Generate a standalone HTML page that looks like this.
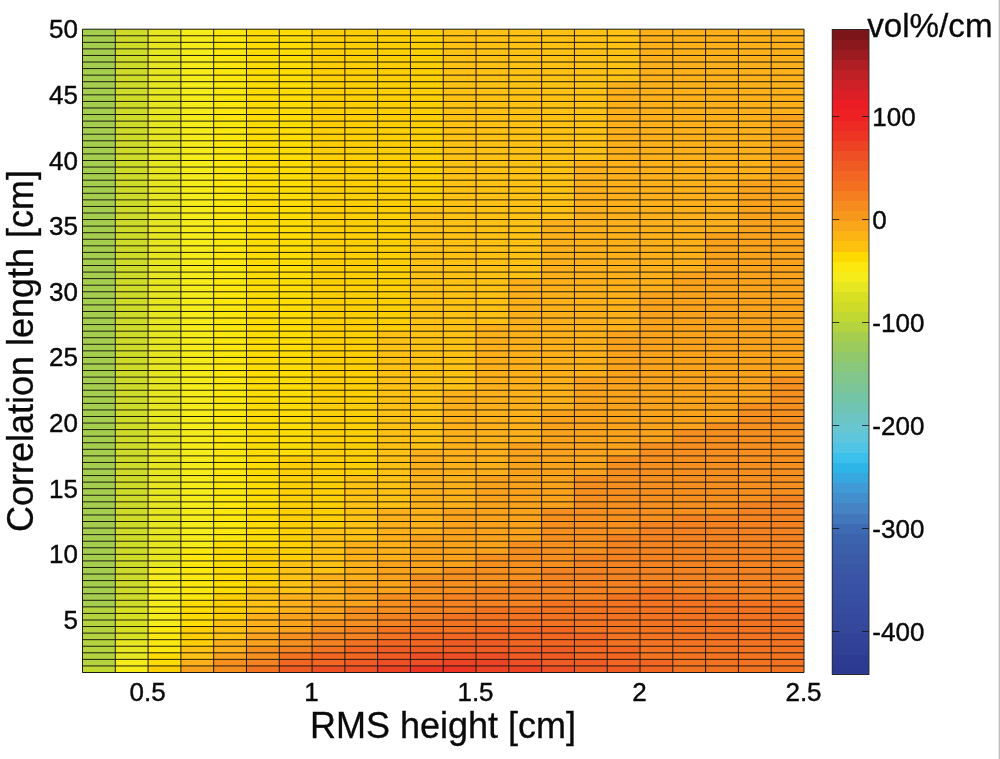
<!DOCTYPE html>
<html><head><meta charset="utf-8"><title>Sensitivity plot</title>
<style>
html,body{margin:0;padding:0;background:#fff;}
body{width:1000px;height:759px;overflow:hidden;}
svg{display:block;}
svg text{font-family:"Liberation Sans",sans-serif;fill:#0a0a0a;}
svg text.t{stroke:#0a0a0a;stroke-width:0.4px;}
svg text.b{stroke:#0a0a0a;stroke-width:0.3px;}
</style></head><body>
<svg width="1000" height="759" viewBox="0 0 1000 759">
<rect width="1000" height="759" fill="#fff"/>
<rect x="998.7" y="0" width="1.3" height="759" fill="#bcbcbc"/>
<g shape-rendering="crispEdges">
<rect x="82.20" y="665.64" width="33.40" height="7.16" fill="#c2d832"/>
<rect x="82.20" y="606.56" width="33.40" height="59.68" fill="#b4d33e"/>
<rect x="82.20" y="28.90" width="33.40" height="578.26" fill="#a6ce4e"/>
<rect x="115.00" y="659.07" width="33.40" height="13.73" fill="#f5ec1a"/>
<rect x="115.00" y="639.38" width="33.40" height="20.29" fill="#e6e621"/>
<rect x="115.00" y="606.56" width="33.40" height="33.42" fill="#d8e023"/>
<rect x="115.00" y="28.90" width="33.40" height="578.26" fill="#cedc29"/>
<rect x="147.79" y="665.64" width="33.40" height="7.16" fill="#ffcf06"/>
<rect x="147.79" y="652.51" width="33.40" height="13.73" fill="#ffdc04"/>
<rect x="147.79" y="626.25" width="33.40" height="26.86" fill="#fce80f"/>
<rect x="147.79" y="567.17" width="33.40" height="59.68" fill="#f5ec1a"/>
<rect x="147.79" y="28.90" width="33.40" height="538.87" fill="#e6e621"/>
<rect x="180.59" y="665.64" width="33.40" height="7.16" fill="#faa21b"/>
<rect x="180.59" y="659.07" width="33.40" height="7.16" fill="#fdb01a"/>
<rect x="180.59" y="645.94" width="33.40" height="13.73" fill="#ffc113"/>
<rect x="180.59" y="626.25" width="33.40" height="20.29" fill="#ffcf06"/>
<rect x="180.59" y="599.99" width="33.40" height="26.86" fill="#ffdc04"/>
<rect x="180.59" y="547.48" width="33.40" height="53.11" fill="#fce80f"/>
<rect x="180.59" y="28.90" width="33.40" height="519.18" fill="#f5ec1a"/>
<rect x="213.38" y="659.07" width="33.40" height="13.73" fill="#f78f1f"/>
<rect x="213.38" y="652.51" width="33.40" height="7.16" fill="#faa21b"/>
<rect x="213.38" y="639.38" width="33.40" height="13.73" fill="#fdb01a"/>
<rect x="213.38" y="619.69" width="33.40" height="20.29" fill="#ffc113"/>
<rect x="213.38" y="593.43" width="33.40" height="26.86" fill="#ffcf06"/>
<rect x="213.38" y="540.91" width="33.40" height="53.11" fill="#ffdc04"/>
<rect x="213.38" y="28.90" width="33.40" height="512.61" fill="#fce80f"/>
<rect x="246.18" y="665.64" width="33.40" height="7.16" fill="#f47321"/>
<rect x="246.18" y="659.07" width="33.40" height="7.16" fill="#f58220"/>
<rect x="246.18" y="645.94" width="33.40" height="13.73" fill="#f78f1f"/>
<rect x="246.18" y="632.81" width="33.40" height="13.73" fill="#faa21b"/>
<rect x="246.18" y="613.12" width="33.40" height="20.29" fill="#fdb01a"/>
<rect x="246.18" y="586.86" width="33.40" height="26.86" fill="#ffc113"/>
<rect x="246.18" y="547.48" width="33.40" height="39.99" fill="#ffcf06"/>
<rect x="246.18" y="28.90" width="33.40" height="519.18" fill="#ffdc04"/>
<rect x="278.97" y="665.64" width="33.40" height="7.16" fill="#f05b23"/>
<rect x="278.97" y="659.07" width="33.40" height="7.16" fill="#f26622"/>
<rect x="278.97" y="652.51" width="33.40" height="7.16" fill="#f47321"/>
<rect x="278.97" y="645.94" width="33.40" height="7.16" fill="#f58220"/>
<rect x="278.97" y="632.81" width="33.40" height="13.73" fill="#f78f1f"/>
<rect x="278.97" y="613.12" width="33.40" height="20.29" fill="#faa21b"/>
<rect x="278.97" y="593.43" width="33.40" height="20.29" fill="#fdb01a"/>
<rect x="278.97" y="560.61" width="33.40" height="33.42" fill="#ffc113"/>
<rect x="278.97" y="455.58" width="33.40" height="105.63" fill="#ffcf06"/>
<rect x="278.97" y="28.90" width="33.40" height="427.28" fill="#ffdc04"/>
<rect x="311.77" y="665.64" width="33.40" height="7.16" fill="#ef4f24"/>
<rect x="311.77" y="652.51" width="33.40" height="13.73" fill="#f26622"/>
<rect x="311.77" y="645.94" width="33.40" height="7.16" fill="#f47321"/>
<rect x="311.77" y="632.81" width="33.40" height="13.73" fill="#f58220"/>
<rect x="311.77" y="619.69" width="33.40" height="13.73" fill="#f78f1f"/>
<rect x="311.77" y="599.99" width="33.40" height="20.29" fill="#faa21b"/>
<rect x="311.77" y="573.74" width="33.40" height="26.86" fill="#fdb01a"/>
<rect x="311.77" y="527.79" width="33.40" height="46.55" fill="#ffc113"/>
<rect x="311.77" y="28.90" width="33.40" height="499.49" fill="#ffcf06"/>
<rect x="344.56" y="665.64" width="33.40" height="7.16" fill="#ef4f24"/>
<rect x="344.56" y="659.07" width="33.40" height="7.16" fill="#f05b23"/>
<rect x="344.56" y="645.94" width="33.40" height="13.73" fill="#f26622"/>
<rect x="344.56" y="639.38" width="33.40" height="7.16" fill="#f47321"/>
<rect x="344.56" y="626.25" width="33.40" height="13.73" fill="#f58220"/>
<rect x="344.56" y="606.56" width="33.40" height="20.29" fill="#f78f1f"/>
<rect x="344.56" y="580.30" width="33.40" height="26.86" fill="#faa21b"/>
<rect x="344.56" y="540.91" width="33.40" height="39.99" fill="#fdb01a"/>
<rect x="344.56" y="475.27" width="33.40" height="66.24" fill="#ffc113"/>
<rect x="344.56" y="28.90" width="33.40" height="446.97" fill="#ffcf06"/>
<rect x="377.36" y="665.64" width="33.40" height="7.16" fill="#ee4224"/>
<rect x="377.36" y="659.07" width="33.40" height="7.16" fill="#ef4f24"/>
<rect x="377.36" y="645.94" width="33.40" height="13.73" fill="#f05b23"/>
<rect x="377.36" y="639.38" width="33.40" height="7.16" fill="#f26622"/>
<rect x="377.36" y="626.25" width="33.40" height="13.73" fill="#f47321"/>
<rect x="377.36" y="613.12" width="33.40" height="13.73" fill="#f58220"/>
<rect x="377.36" y="593.43" width="33.40" height="20.29" fill="#f78f1f"/>
<rect x="377.36" y="560.61" width="33.40" height="33.42" fill="#faa21b"/>
<rect x="377.36" y="508.09" width="33.40" height="53.11" fill="#fdb01a"/>
<rect x="377.36" y="330.86" width="33.40" height="177.84" fill="#ffc113"/>
<rect x="377.36" y="28.90" width="33.40" height="302.56" fill="#ffcf06"/>
<rect x="410.15" y="665.64" width="33.40" height="7.16" fill="#ee3524"/>
<rect x="410.15" y="652.51" width="33.40" height="13.73" fill="#ef4f24"/>
<rect x="410.15" y="645.94" width="33.40" height="7.16" fill="#f05b23"/>
<rect x="410.15" y="632.81" width="33.40" height="13.73" fill="#f26622"/>
<rect x="410.15" y="619.69" width="33.40" height="13.73" fill="#f47321"/>
<rect x="410.15" y="599.99" width="33.40" height="20.29" fill="#f58220"/>
<rect x="410.15" y="573.74" width="33.40" height="26.86" fill="#f78f1f"/>
<rect x="410.15" y="534.35" width="33.40" height="39.99" fill="#faa21b"/>
<rect x="410.15" y="449.01" width="33.40" height="85.94" fill="#fdb01a"/>
<rect x="410.15" y="206.14" width="33.40" height="243.48" fill="#ffc113"/>
<rect x="410.15" y="28.90" width="33.40" height="177.84" fill="#ffcf06"/>
<rect x="442.95" y="665.64" width="33.40" height="7.16" fill="#ee3524"/>
<rect x="442.95" y="659.07" width="33.40" height="7.16" fill="#ee4224"/>
<rect x="442.95" y="652.51" width="33.40" height="7.16" fill="#ef4f24"/>
<rect x="442.95" y="639.38" width="33.40" height="13.73" fill="#f05b23"/>
<rect x="442.95" y="632.81" width="33.40" height="7.16" fill="#f26622"/>
<rect x="442.95" y="613.12" width="33.40" height="20.29" fill="#f47321"/>
<rect x="442.95" y="593.43" width="33.40" height="20.29" fill="#f58220"/>
<rect x="442.95" y="567.17" width="33.40" height="26.86" fill="#f78f1f"/>
<rect x="442.95" y="508.09" width="33.40" height="59.68" fill="#faa21b"/>
<rect x="442.95" y="389.94" width="33.40" height="118.76" fill="#fdb01a"/>
<rect x="442.95" y="28.90" width="33.40" height="361.64" fill="#ffc113"/>
<rect x="475.75" y="659.07" width="33.40" height="13.73" fill="#ee4224"/>
<rect x="475.75" y="652.51" width="33.40" height="7.16" fill="#ef4f24"/>
<rect x="475.75" y="639.38" width="33.40" height="13.73" fill="#f05b23"/>
<rect x="475.75" y="626.25" width="33.40" height="13.73" fill="#f26622"/>
<rect x="475.75" y="606.56" width="33.40" height="20.29" fill="#f47321"/>
<rect x="475.75" y="586.86" width="33.40" height="20.29" fill="#f58220"/>
<rect x="475.75" y="554.04" width="33.40" height="33.42" fill="#f78f1f"/>
<rect x="475.75" y="475.27" width="33.40" height="79.37" fill="#faa21b"/>
<rect x="475.75" y="324.29" width="33.40" height="151.58" fill="#fdb01a"/>
<rect x="475.75" y="28.90" width="33.40" height="295.99" fill="#ffc113"/>
<rect x="508.54" y="665.64" width="33.40" height="7.16" fill="#ee4224"/>
<rect x="508.54" y="659.07" width="33.40" height="7.16" fill="#ef4f24"/>
<rect x="508.54" y="645.94" width="33.40" height="13.73" fill="#f05b23"/>
<rect x="508.54" y="626.25" width="33.40" height="20.29" fill="#f26622"/>
<rect x="508.54" y="606.56" width="33.40" height="20.29" fill="#f47321"/>
<rect x="508.54" y="580.30" width="33.40" height="26.86" fill="#f58220"/>
<rect x="508.54" y="540.91" width="33.40" height="39.99" fill="#f78f1f"/>
<rect x="508.54" y="442.45" width="33.40" height="99.06" fill="#faa21b"/>
<rect x="508.54" y="278.34" width="33.40" height="164.71" fill="#fdb01a"/>
<rect x="508.54" y="28.90" width="33.40" height="250.04" fill="#ffc113"/>
<rect x="541.34" y="665.64" width="33.40" height="7.16" fill="#ef4f24"/>
<rect x="541.34" y="645.94" width="33.40" height="20.29" fill="#f05b23"/>
<rect x="541.34" y="626.25" width="33.40" height="20.29" fill="#f26622"/>
<rect x="541.34" y="599.99" width="33.40" height="26.86" fill="#f47321"/>
<rect x="541.34" y="567.17" width="33.40" height="33.42" fill="#f58220"/>
<rect x="541.34" y="508.09" width="33.40" height="59.68" fill="#f78f1f"/>
<rect x="541.34" y="409.63" width="33.40" height="99.06" fill="#faa21b"/>
<rect x="541.34" y="219.26" width="33.40" height="190.96" fill="#fdb01a"/>
<rect x="541.34" y="28.90" width="33.40" height="190.96" fill="#ffc113"/>
<rect x="574.13" y="659.07" width="33.40" height="13.73" fill="#f05b23"/>
<rect x="574.13" y="632.81" width="33.40" height="26.86" fill="#f26622"/>
<rect x="574.13" y="599.99" width="33.40" height="33.42" fill="#f47321"/>
<rect x="574.13" y="554.04" width="33.40" height="46.55" fill="#f58220"/>
<rect x="574.13" y="475.27" width="33.40" height="79.37" fill="#f78f1f"/>
<rect x="574.13" y="376.81" width="33.40" height="99.06" fill="#faa21b"/>
<rect x="574.13" y="160.19" width="33.40" height="217.22" fill="#fdb01a"/>
<rect x="574.13" y="28.90" width="33.40" height="131.89" fill="#ffc113"/>
<rect x="606.93" y="665.64" width="33.40" height="7.16" fill="#f05b23"/>
<rect x="606.93" y="645.94" width="33.40" height="20.29" fill="#f26622"/>
<rect x="606.93" y="593.43" width="33.40" height="53.11" fill="#f47321"/>
<rect x="606.93" y="534.35" width="33.40" height="59.68" fill="#f58220"/>
<rect x="606.93" y="455.58" width="33.40" height="79.37" fill="#f78f1f"/>
<rect x="606.93" y="330.86" width="33.40" height="125.32" fill="#faa21b"/>
<rect x="606.93" y="81.41" width="33.40" height="250.04" fill="#fdb01a"/>
<rect x="606.93" y="28.90" width="33.40" height="53.11" fill="#ffc113"/>
<rect x="639.72" y="659.07" width="33.40" height="13.73" fill="#f26622"/>
<rect x="639.72" y="586.86" width="33.40" height="72.81" fill="#f47321"/>
<rect x="639.72" y="521.22" width="33.40" height="66.24" fill="#f58220"/>
<rect x="639.72" y="442.45" width="33.40" height="79.37" fill="#f78f1f"/>
<rect x="639.72" y="291.47" width="33.40" height="151.58" fill="#faa21b"/>
<rect x="639.72" y="28.90" width="33.40" height="263.17" fill="#fdb01a"/>
<rect x="672.52" y="593.43" width="33.40" height="79.37" fill="#f47321"/>
<rect x="672.52" y="514.66" width="33.40" height="79.37" fill="#f58220"/>
<rect x="672.52" y="429.32" width="33.40" height="85.94" fill="#f78f1f"/>
<rect x="672.52" y="271.78" width="33.40" height="158.14" fill="#faa21b"/>
<rect x="672.52" y="28.90" width="33.40" height="243.48" fill="#fdb01a"/>
<rect x="705.31" y="593.43" width="33.40" height="79.37" fill="#f47321"/>
<rect x="705.31" y="514.66" width="33.40" height="79.37" fill="#f58220"/>
<rect x="705.31" y="422.76" width="33.40" height="92.50" fill="#f78f1f"/>
<rect x="705.31" y="232.39" width="33.40" height="190.96" fill="#faa21b"/>
<rect x="705.31" y="28.90" width="33.40" height="204.09" fill="#fdb01a"/>
<rect x="738.11" y="599.99" width="33.40" height="72.81" fill="#f47321"/>
<rect x="738.11" y="501.53" width="33.40" height="99.06" fill="#f58220"/>
<rect x="738.11" y="403.06" width="33.40" height="99.06" fill="#f78f1f"/>
<rect x="738.11" y="179.88" width="33.40" height="223.79" fill="#faa21b"/>
<rect x="738.11" y="28.90" width="33.40" height="151.58" fill="#fdb01a"/>
<rect x="770.90" y="599.99" width="33.40" height="72.81" fill="#f47321"/>
<rect x="770.90" y="494.96" width="33.40" height="105.63" fill="#f58220"/>
<rect x="770.90" y="376.81" width="33.40" height="118.76" fill="#f78f1f"/>
<rect x="770.90" y="114.24" width="33.40" height="263.17" fill="#faa21b"/>
<rect x="770.90" y="28.90" width="33.40" height="85.94" fill="#fdb01a"/>
</g>
<path d="M82.50 672.50H804.00M82.50 665.94H804.00M82.50 659.37H804.00M82.50 652.81H804.00M82.50 646.24H804.00M82.50 639.68H804.00M82.50 633.11H804.00M82.50 626.55H804.00M82.50 619.99H804.00M82.50 613.42H804.00M82.50 606.86H804.00M82.50 600.29H804.00M82.50 593.73H804.00M82.50 587.16H804.00M82.50 580.60H804.00M82.50 574.04H804.00M82.50 567.47H804.00M82.50 560.91H804.00M82.50 554.34H804.00M82.50 547.78H804.00M82.50 541.21H804.00M82.50 534.65H804.00M82.50 528.09H804.00M82.50 521.52H804.00M82.50 514.96H804.00M82.50 508.39H804.00M82.50 501.83H804.00M82.50 495.26H804.00M82.50 488.70H804.00M82.50 482.14H804.00M82.50 475.57H804.00M82.50 469.01H804.00M82.50 462.44H804.00M82.50 455.88H804.00M82.50 449.31H804.00M82.50 442.75H804.00M82.50 436.19H804.00M82.50 429.62H804.00M82.50 423.06H804.00M82.50 416.49H804.00M82.50 409.93H804.00M82.50 403.36H804.00M82.50 396.80H804.00M82.50 390.24H804.00M82.50 383.67H804.00M82.50 377.11H804.00M82.50 370.54H804.00M82.50 363.98H804.00M82.50 357.41H804.00M82.50 350.85H804.00M82.50 344.29H804.00M82.50 337.72H804.00M82.50 331.16H804.00M82.50 324.59H804.00M82.50 318.03H804.00M82.50 311.46H804.00M82.50 304.90H804.00M82.50 298.34H804.00M82.50 291.77H804.00M82.50 285.21H804.00M82.50 278.64H804.00M82.50 272.08H804.00M82.50 265.51H804.00M82.50 258.95H804.00M82.50 252.39H804.00M82.50 245.82H804.00M82.50 239.26H804.00M82.50 232.69H804.00M82.50 226.13H804.00M82.50 219.56H804.00M82.50 213.00H804.00M82.50 206.44H804.00M82.50 199.87H804.00M82.50 193.31H804.00M82.50 186.74H804.00M82.50 180.18H804.00M82.50 173.61H804.00M82.50 167.05H804.00M82.50 160.49H804.00M82.50 153.92H804.00M82.50 147.36H804.00M82.50 140.79H804.00M82.50 134.23H804.00M82.50 127.66H804.00M82.50 121.10H804.00M82.50 114.54H804.00M82.50 107.97H804.00M82.50 101.41H804.00M82.50 94.84H804.00M82.50 88.28H804.00M82.50 81.71H804.00M82.50 75.15H804.00M82.50 68.59H804.00M82.50 62.02H804.00M82.50 55.46H804.00M82.50 48.89H804.00M82.50 42.33H804.00M82.50 35.76H804.00M82.50 29.20H804.00M82.50 29.20V672.50M115.30 29.20V672.50M148.09 29.20V672.50M180.89 29.20V672.50M213.68 29.20V672.50M246.48 29.20V672.50M279.27 29.20V672.50M312.07 29.20V672.50M344.86 29.20V672.50M377.66 29.20V672.50M410.45 29.20V672.50M443.25 29.20V672.50M476.05 29.20V672.50M508.84 29.20V672.50M541.64 29.20V672.50M574.43 29.20V672.50M607.23 29.20V672.50M640.02 29.20V672.50M672.82 29.20V672.50M705.61 29.20V672.50M738.41 29.20V672.50M771.20 29.20V672.50M804.00 29.20V672.50" stroke="#1c1a14" stroke-width="1" fill="none"/>
<g shape-rendering="crispEdges">
<rect x="832.20" y="664.12" width="36.80" height="10.68" fill="#2b3990"/>
<rect x="832.20" y="654.04" width="36.80" height="10.68" fill="#2d3c92"/>
<rect x="832.20" y="643.97" width="36.80" height="10.68" fill="#2f4095"/>
<rect x="832.20" y="633.89" width="36.80" height="10.68" fill="#324397"/>
<rect x="832.20" y="623.81" width="36.80" height="10.68" fill="#34479a"/>
<rect x="832.20" y="613.73" width="36.80" height="10.68" fill="#354a9c"/>
<rect x="832.20" y="603.65" width="36.80" height="10.68" fill="#364c9e"/>
<rect x="832.20" y="593.58" width="36.80" height="10.68" fill="#374fa0"/>
<rect x="832.20" y="583.50" width="36.80" height="10.68" fill="#3951a2"/>
<rect x="832.20" y="573.42" width="36.80" height="10.68" fill="#3a53a4"/>
<rect x="832.20" y="563.34" width="36.80" height="10.68" fill="#3a57a6"/>
<rect x="832.20" y="553.26" width="36.80" height="10.68" fill="#3b5ba9"/>
<rect x="832.20" y="543.18" width="36.80" height="10.68" fill="#3b5fab"/>
<rect x="832.20" y="533.11" width="36.80" height="10.68" fill="#3c63ae"/>
<rect x="832.20" y="523.03" width="36.80" height="10.68" fill="#3e6ab3"/>
<rect x="832.20" y="512.95" width="36.80" height="10.68" fill="#4277bc"/>
<rect x="832.20" y="502.87" width="36.80" height="10.68" fill="#4583c4"/>
<rect x="832.20" y="492.79" width="36.80" height="10.68" fill="#428fcd"/>
<rect x="832.20" y="482.72" width="36.80" height="10.68" fill="#3f9ad6"/>
<rect x="832.20" y="472.64" width="36.80" height="10.68" fill="#36a8df"/>
<rect x="832.20" y="462.56" width="36.80" height="10.68" fill="#2eb5e8"/>
<rect x="832.20" y="452.48" width="36.80" height="10.68" fill="#3bbfeb"/>
<rect x="832.20" y="442.40" width="36.80" height="10.68" fill="#4fc4e4"/>
<rect x="832.20" y="432.32" width="36.80" height="10.68" fill="#5dc6dc"/>
<rect x="832.20" y="422.25" width="36.80" height="10.68" fill="#67c6d0"/>
<rect x="832.20" y="412.17" width="36.80" height="10.68" fill="#6dc5c3"/>
<rect x="832.20" y="402.09" width="36.80" height="10.68" fill="#70c4b4"/>
<rect x="832.20" y="392.01" width="36.80" height="10.68" fill="#74c4a6"/>
<rect x="832.20" y="381.93" width="36.80" height="10.68" fill="#7bc599"/>
<rect x="832.20" y="371.86" width="36.80" height="10.68" fill="#82c68b"/>
<rect x="832.20" y="361.78" width="36.80" height="10.68" fill="#89c77c"/>
<rect x="832.20" y="351.70" width="36.80" height="10.68" fill="#91c86b"/>
<rect x="832.20" y="341.62" width="36.80" height="10.68" fill="#9bcb5c"/>
<rect x="832.20" y="331.54" width="36.80" height="10.68" fill="#a6ce4e"/>
<rect x="832.20" y="321.47" width="36.80" height="10.68" fill="#b4d33e"/>
<rect x="832.20" y="311.39" width="36.80" height="10.68" fill="#c2d832"/>
<rect x="832.20" y="301.31" width="36.80" height="10.68" fill="#cedc29"/>
<rect x="832.20" y="291.23" width="36.80" height="10.68" fill="#d8e023"/>
<rect x="832.20" y="281.15" width="36.80" height="10.68" fill="#e6e621"/>
<rect x="832.20" y="271.07" width="36.80" height="10.68" fill="#f5ec1a"/>
<rect x="832.20" y="261.00" width="36.80" height="10.68" fill="#fce80f"/>
<rect x="832.20" y="250.92" width="36.80" height="10.68" fill="#ffda00"/>
<rect x="832.20" y="240.84" width="36.80" height="10.68" fill="#fec20e"/>
<rect x="832.20" y="230.76" width="36.80" height="10.68" fill="#fcb415"/>
<rect x="832.20" y="220.68" width="36.80" height="10.68" fill="#faa61a"/>
<rect x="832.20" y="210.61" width="36.80" height="10.68" fill="#f7981d"/>
<rect x="832.20" y="200.53" width="36.80" height="10.68" fill="#f68b1f"/>
<rect x="832.20" y="190.45" width="36.80" height="10.68" fill="#f57f20"/>
<rect x="832.20" y="180.37" width="36.80" height="10.68" fill="#f37021"/>
<rect x="832.20" y="170.29" width="36.80" height="10.68" fill="#f26522"/>
<rect x="832.20" y="160.22" width="36.80" height="10.68" fill="#f05a23"/>
<rect x="832.20" y="150.14" width="36.80" height="10.68" fill="#ef4f24"/>
<rect x="832.20" y="140.06" width="36.80" height="10.68" fill="#ee4224"/>
<rect x="832.20" y="129.98" width="36.80" height="10.68" fill="#ee3524"/>
<rect x="832.20" y="119.90" width="36.80" height="10.68" fill="#ed2a24"/>
<rect x="832.20" y="109.83" width="36.80" height="10.68" fill="#ed2024"/>
<rect x="832.20" y="99.75" width="36.80" height="10.68" fill="#eb1c24"/>
<rect x="832.20" y="89.67" width="36.80" height="10.68" fill="#dc1f26"/>
<rect x="832.20" y="79.59" width="36.80" height="10.68" fill="#ce2027"/>
<rect x="832.20" y="69.51" width="36.80" height="10.68" fill="#be2026"/>
<rect x="832.20" y="59.43" width="36.80" height="10.68" fill="#ae1e23"/>
<rect x="832.20" y="49.36" width="36.80" height="10.68" fill="#9c1b20"/>
<rect x="832.20" y="39.28" width="36.80" height="10.68" fill="#8b181c"/>
<rect x="832.20" y="29.20" width="36.80" height="10.68" fill="#7b1519"/>
</g>
<rect x="832.20" y="29.50" width="36.80" height="645.00" fill="none" stroke="#2a2a2a" stroke-width="0.9"/>
<path d="M832.20 116.5h7M869.00 116.5h-7" stroke="#111" stroke-width="0.8"/>
<text class="t" x="872.3" y="126.2" font-size="26">100</text>
<path d="M832.20 219.5h7M869.00 219.5h-7" stroke="#111" stroke-width="0.8"/>
<text class="t" x="872.3" y="229.2" font-size="26">0</text>
<path d="M832.20 322.5h7M869.00 322.5h-7" stroke="#111" stroke-width="0.8"/>
<text class="t" x="872.3" y="332.2" font-size="26">-100</text>
<path d="M832.20 425.5h7M869.00 425.5h-7" stroke="#111" stroke-width="0.8"/>
<text class="t" x="872.3" y="435.2" font-size="26">-200</text>
<path d="M832.20 528.5h7M869.00 528.5h-7" stroke="#111" stroke-width="0.8"/>
<text class="t" x="872.3" y="538.2" font-size="26">-300</text>
<path d="M832.20 631.5h7M869.00 631.5h-7" stroke="#111" stroke-width="0.8"/>
<text class="t" x="872.3" y="641.2" font-size="26">-400</text>
<text class="t" x="78" y="38.2" font-size="26" text-anchor="end">50</text>
<text class="t" x="78" y="103.8" font-size="26" text-anchor="end">45</text>
<text class="t" x="78" y="169.5" font-size="26" text-anchor="end">40</text>
<text class="t" x="78" y="235.1" font-size="26" text-anchor="end">35</text>
<text class="t" x="78" y="300.8" font-size="26" text-anchor="end">30</text>
<text class="t" x="78" y="366.4" font-size="26" text-anchor="end">25</text>
<text class="t" x="78" y="432.1" font-size="26" text-anchor="end">20</text>
<text class="t" x="78" y="497.7" font-size="26" text-anchor="end">15</text>
<text class="t" x="78" y="563.3" font-size="26" text-anchor="end">10</text>
<text class="t" x="78" y="629.0" font-size="26" text-anchor="end">5</text>
<text class="t" x="147.6" y="701.3" font-size="26" text-anchor="middle">0.5</text>
<text class="t" x="311.6" y="701.3" font-size="26" text-anchor="middle">1</text>
<text class="t" x="475.5" y="701.3" font-size="26" text-anchor="middle">1.5</text>
<text class="t" x="639.5" y="701.3" font-size="26" text-anchor="middle">2</text>
<text class="t" x="803.5" y="701.3" font-size="26" text-anchor="middle">2.5</text>
<text class="b" x="443" y="737.5" font-size="36" text-anchor="middle">RMS height [cm]</text>
<text class="b" transform="translate(32.7,351) rotate(-90)" font-size="36" text-anchor="middle">Correlation length [cm]</text>
<text class="b" x="867.2" y="37.1" font-size="33.2">vol%/cm</text>
</svg>
</body></html>
